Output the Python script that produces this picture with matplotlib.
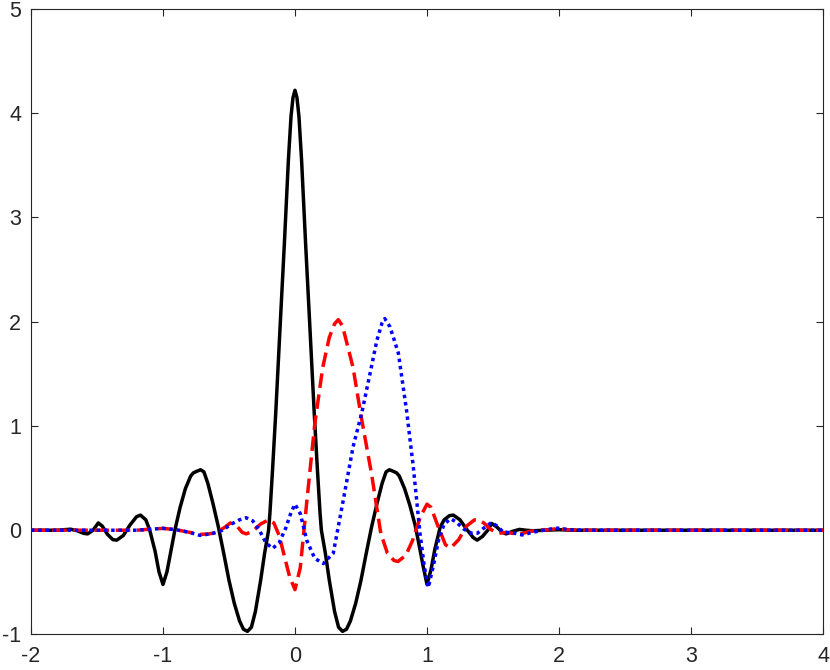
import matplotlib
matplotlib.use("Agg")
import matplotlib.pyplot as plt

plt.rcParams['font.family'] = ['Liberation Sans', 'DejaVu Sans']

# ---- data ----
black_x = [-2.0, -1.80, -1.75, -1.70, -1.65, -1.60, -1.57, -1.53, -1.49, -1.46, -1.42, -1.38,
           -1.35, -1.30, -1.25, -1.20, -1.17, -1.13, -1.10, -1.06, -1.03, -1.00, -0.97, -0.94,
           -0.91, -0.87, -0.83, -0.79, -0.77, -0.745, -0.715, -0.69, -0.66, -0.62, -0.58, -0.54,
           -0.50, -0.46, -0.42, -0.39, -0.36, -0.33, -0.30, -0.26, -0.23, -0.20, -0.19, -0.17,
           -0.146, -0.11, -0.08, -0.05, -0.03, -0.015, 0.0, 0.015, 0.03, 0.05, 0.08, 0.11,
           0.146, 0.17, 0.19, 0.20, 0.23, 0.26, 0.30, 0.33, 0.36, 0.39, 0.42, 0.46,
           0.50, 0.54, 0.58, 0.62, 0.66, 0.69, 0.715, 0.745, 0.77, 0.79, 0.83, 0.87,
           0.91, 0.94, 0.97, 1.00, 1.03, 1.06, 1.10, 1.13, 1.17, 1.20, 1.25, 1.30,
           1.35, 1.38, 1.42, 1.46, 1.49, 1.53, 1.57, 1.60, 1.65, 1.70, 1.75, 1.80,
           1.90, 2.00, 2.10, 2.30, 4.0]
black_y = [0.0, 0.0, 0.005, 0.01, -0.005, -0.03, -0.035, 0.0, 0.07, 0.04, -0.04, -0.09,
           -0.095, -0.05, 0.05, 0.13, 0.145, 0.10, 0.0, -0.20, -0.40, -0.52, -0.40, -0.20,
           0.0, 0.22, 0.40, 0.52, 0.55, 0.565, 0.58, 0.56, 0.45, 0.25, 0.03, -0.22,
           -0.48, -0.70, -0.87, -0.95, -0.97, -0.93, -0.78, -0.48, -0.22, 0.0, 0.16, 0.58,
           1.12, 2.02, 2.76, 3.55, 3.97, 4.15, 4.22, 4.15, 3.97, 3.55, 2.76, 2.02,
           1.12, 0.58, 0.16, 0.0, -0.22, -0.48, -0.78, -0.93, -0.97, -0.95, -0.87, -0.70,
           -0.48, -0.22, 0.03, 0.25, 0.45, 0.56, 0.58, 0.565, 0.55, 0.52, 0.40, 0.24,
           0.05, -0.14, -0.34, -0.52, -0.38, -0.18, 0.03, 0.10, 0.14, 0.145, 0.10, 0.01,
           -0.07, -0.095, -0.06, 0.0, 0.065, 0.03, -0.02, -0.035, -0.01, 0.008, 0.0, -0.005,
           0.0, 0.005, 0.0, 0.0, 0.0]

red_x = [-2.0, -1.5, -1.2, -1.10, -1.00, -0.90, -0.80, -0.72, -0.65, -0.59, -0.53, -0.49,
         -0.44, -0.40, -0.37, -0.32, -0.26, -0.20, -0.16, -0.12, -0.08, -0.04, 0.0, 0.04,
         0.09, 0.15, 0.21, 0.26, 0.30, 0.328, 0.36, 0.40, 0.44, 0.50, 0.58, 0.65,
         0.70, 0.75, 0.78, 0.84, 0.89, 0.95, 1.00, 1.03, 1.08, 1.14, 1.18, 1.24,
         1.30, 1.36, 1.39, 1.43, 1.48, 1.54, 1.60, 1.65, 1.70, 1.78, 1.85, 1.92,
         1.99, 2.06, 2.20, 4.0]
red_y = [0.0, 0.0, 0.0, 0.01, 0.018, 0.005, -0.02, -0.04, -0.035, -0.02, 0.03, 0.07,
         0.04, -0.02, -0.035, -0.01, 0.06, 0.10, 0.07, -0.05, -0.25, -0.45, -0.57, -0.36,
         0.28, 1.02, 1.56, 1.85, 1.98, 2.02, 1.96, 1.76, 1.56, 1.10, 0.54, -0.03,
         -0.22, -0.29, -0.30, -0.24, -0.10, 0.13, 0.25, 0.22, 0.05, -0.14, -0.17, -0.09,
         0.04, 0.10, 0.10, 0.07, 0.01, -0.03, -0.02, -0.03, -0.04, -0.01, 0.0, 0.005,
         0.016, 0.005, 0.0, 0.0]

blue_x = [-2.0, -1.5, -1.2, -1.00, -0.90, -0.80, -0.72, -0.62, -0.55, -0.48, -0.42, -0.37,
          -0.32, -0.27, -0.22, -0.17, -0.12, -0.07, -0.03, 0.0, 0.04, 0.09, 0.15, 0.214,
          0.29, 0.366, 0.44, 0.505, 0.568, 0.62, 0.66, 0.68, 0.72, 0.783, 0.846, 0.896,
          0.947, 0.98, 1.01, 1.05, 1.09, 1.13, 1.18, 1.22, 1.28, 1.34, 1.38, 1.43,
          1.49, 1.53, 1.58, 1.65, 1.72, 1.80, 1.90, 1.99, 2.08, 2.20, 4.0]
blue_y = [0.0, 0.0, 0.0, 0.018, 0.005, -0.02, -0.05, -0.03, 0.0, 0.06, 0.10, 0.12,
          0.09, 0.0, -0.12, -0.175, -0.12, 0.02, 0.17, 0.25, 0.16, -0.10, -0.27, -0.32,
          -0.22, 0.29, 0.80, 1.12, 1.50, 1.82, 1.99, 2.03, 1.95, 1.70, 1.14, 0.61,
          -0.03, -0.35, -0.55, -0.33, -0.08, 0.06, 0.11, 0.08, 0.01, -0.03, -0.03, 0.02,
          0.075, 0.04, -0.02, -0.025, -0.045, -0.02, 0.005, 0.02, 0.005, 0.0, 0.0]

x_ticks = [-2, -1, 0, 1, 2, 3, 4]
y_ticks = [-1, 0, 1, 2, 3, 4, 5]

# ---- figure ----
fig = plt.figure(figsize=(8.3, 6.7), dpi=100)
ax = fig.add_axes([0.0373, 0.053, 0.9543, 0.9336])

lw = 2.5
ax.plot(black_x, black_y, color='black', linewidth=lw, solid_joinstyle='round')
ax.plot(red_x, red_y, color='red', linewidth=lw, linestyle=(0, (4.2, 1.9)))
ax.plot(blue_x, blue_y, color='blue', linewidth=lw, linestyle=(0, (1.0, 1.1)),
        dash_capstyle='butt')

ax.set_xlim(-2, 4)
ax.set_ylim(-1, 5)
ax.set_xticks(x_ticks)
ax.set_yticks(y_ticks)
ax.set_xticklabels([str(t) for t in x_ticks])
ax.set_yticklabels([str(t) for t in y_ticks])

axcol = '#262626'
for s in ax.spines.values():
    s.set_color(axcol)
    s.set_linewidth(0.8)
ax.tick_params(direction='in', length=5, width=0.8, colors=axcol,
               top=True, right=True, labelsize=15.5, pad=7)
ax.tick_params(axis='x', pad=8)

fig.savefig('out.png', dpi=100)
